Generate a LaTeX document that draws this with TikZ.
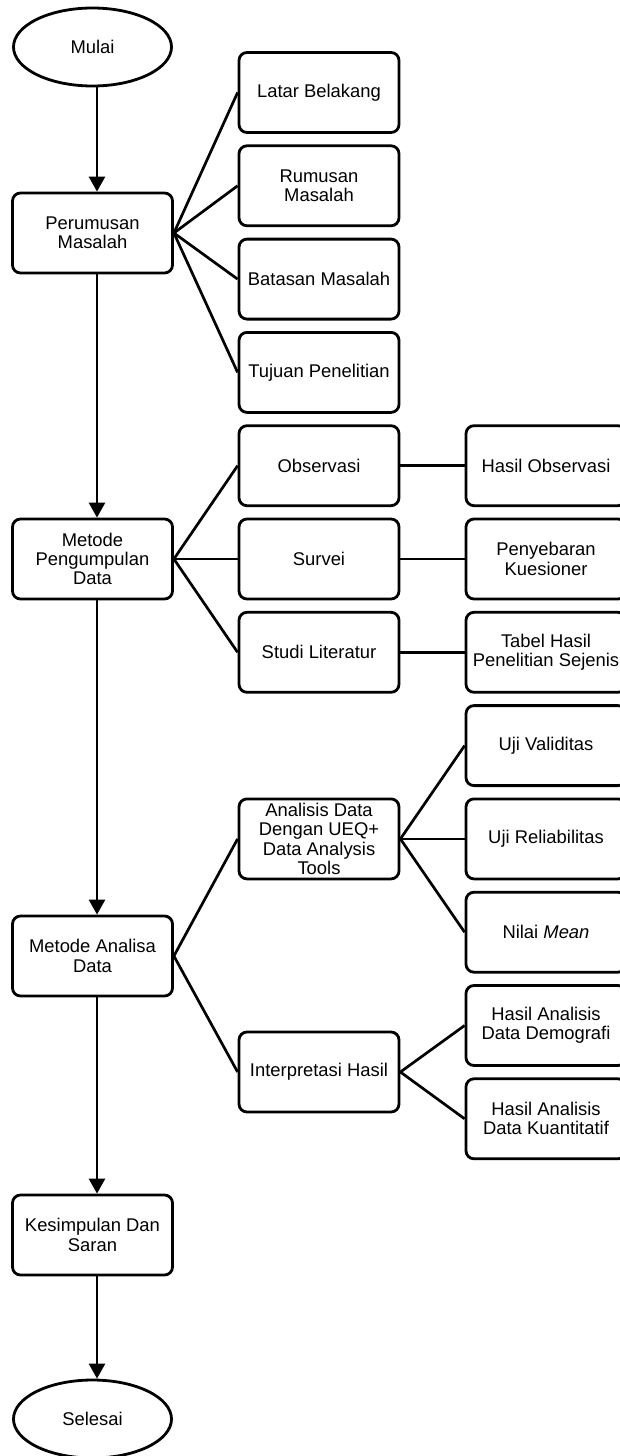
\documentclass[tikz,border=0pt]{standalone}
\usepackage{fontspec}
\setmainfont{Liberation Sans}
\usetikzlibrary{arrows.meta,shapes.geometric}
\tikzset{
  box/.style={draw,rounded corners=4pt,line width=1.4pt,minimum width=80pt,minimum height=40pt,
    align=center,inner sep=1pt,font=\fontsize{9.2}{9.6}\selectfont},
  terminal/.style={draw,ellipse,line width=1.4pt,minimum width=79pt,minimum height=39pt,
    inner sep=0pt,font=\fontsize{9.2}{9.6}\selectfont},
}

\begin{document}
\begin{tikzpicture}[x=0.5pt,y=-0.5pt]
    \useasboundingbox (0,0) rectangle (620,1456);

    % alur utama
    \node[terminal] (mulai) at (92.5,47) {Mulai};
    \node[box] (perumusan) at (92.5,233) {Perumusan\\Masalah};
    \node[box] (pengumpulan) at (92.5,559) {Metode\\Pengumpulan\\Data};
    \node[box] (analisa) at (92.5,956) {Metode Analisa\\Data};
    \node[box] (kesimpulan) at (92.5,1235) {Kesimpulan Dan\\Saran};
    \node[terminal] (selesai) at (92.5,1419) {Selesai};

    % kolom tengah
    \node[box] (latar) at (319,92.5) {Latar Belakang};
    \node[box] (rumusan) at (319,185.8) {Rumusan\\Masalah};
    \node[box] (batasan) at (319,279.1) {Batasan Masalah};
    \node[box] (tujuan) at (319,372.4) {Tujuan Penelitian};
    \node[box] (observasi) at (319,465.7) {Observasi};
    \node[box] (survei) at (319,559) {Survei};
    \node[box] (studi) at (319,652.3) {Studi Literatur};
    \node[box] (ueq) at (319,838.9) {Analisis Data\\Dengan UEQ+\\Data Analysis\\Tools};
    \node[box] (interpretasi) at (319,1072) {Interpretasi Hasil};

    % kolom kanan
    \node[box] (hasilobs) at (546,465.7) {Hasil Observasi};
    \node[box] (kuesioner) at (546,559) {Penyebaran\\Kuesioner};
    \node[box] (tabel) at (546,652.3) {Tabel Hasil\\Penelitian Sejenis};
    \node[box] (validitas) at (546,745.6) {Uji Validitas};
    \node[box] (reliabilitas) at (546,838.9) {Uji Reliabilitas};
    \node[box] (mean) at (546,932.2) {Nilai \textit{Mean}};
    \node[box] (demografi) at (546,1025.5) {Hasil Analisis\\Data Demografi};
    \node[box] (kuantitatif) at (546,1118.8) {Hasil Analisis\\Data Kuantitatif};

    \path[line width=1.35pt]
    (perumusan.east) edge (latar.west)
    (perumusan.east) edge (rumusan.west)
    (perumusan.east) edge (batasan.west)
    (perumusan.east) edge (tujuan.west)
    (pengumpulan.east) edge (observasi.west)
    (pengumpulan.east) edge (survei.west)
    (pengumpulan.east) edge (studi.west)
    (observasi) edge (hasilobs)
    (survei) edge (kuesioner)
    (studi) edge (tabel)
    (analisa.east) edge (ueq.west)
    (analisa.east) edge (interpretasi.west)
    (ueq.east) edge (validitas.west)
    (ueq.east) edge (reliabilitas.west)
    (ueq.east) edge (mean.west)
    (interpretasi.east) edge (demografi.west)
    (interpretasi.east) edge (kuantitatif.west);

    \path[-{Triangle[width=8pt,length=7.5pt]},line width=1.35pt]
    ([xshift=2.25pt]mulai.south) edge ([xshift=2.25pt]perumusan.north)
    ([xshift=2.25pt]perumusan.south) edge ([xshift=2.25pt]pengumpulan.north)
    ([xshift=2.25pt]pengumpulan.south) edge ([xshift=2.25pt]analisa.north)
    ([xshift=2.25pt]analisa.south) edge ([xshift=2.25pt]kesimpulan.north)
    ([xshift=2.25pt]kesimpulan.south) edge ([xshift=2.25pt]selesai.north);
\end{tikzpicture}
\end{document}
